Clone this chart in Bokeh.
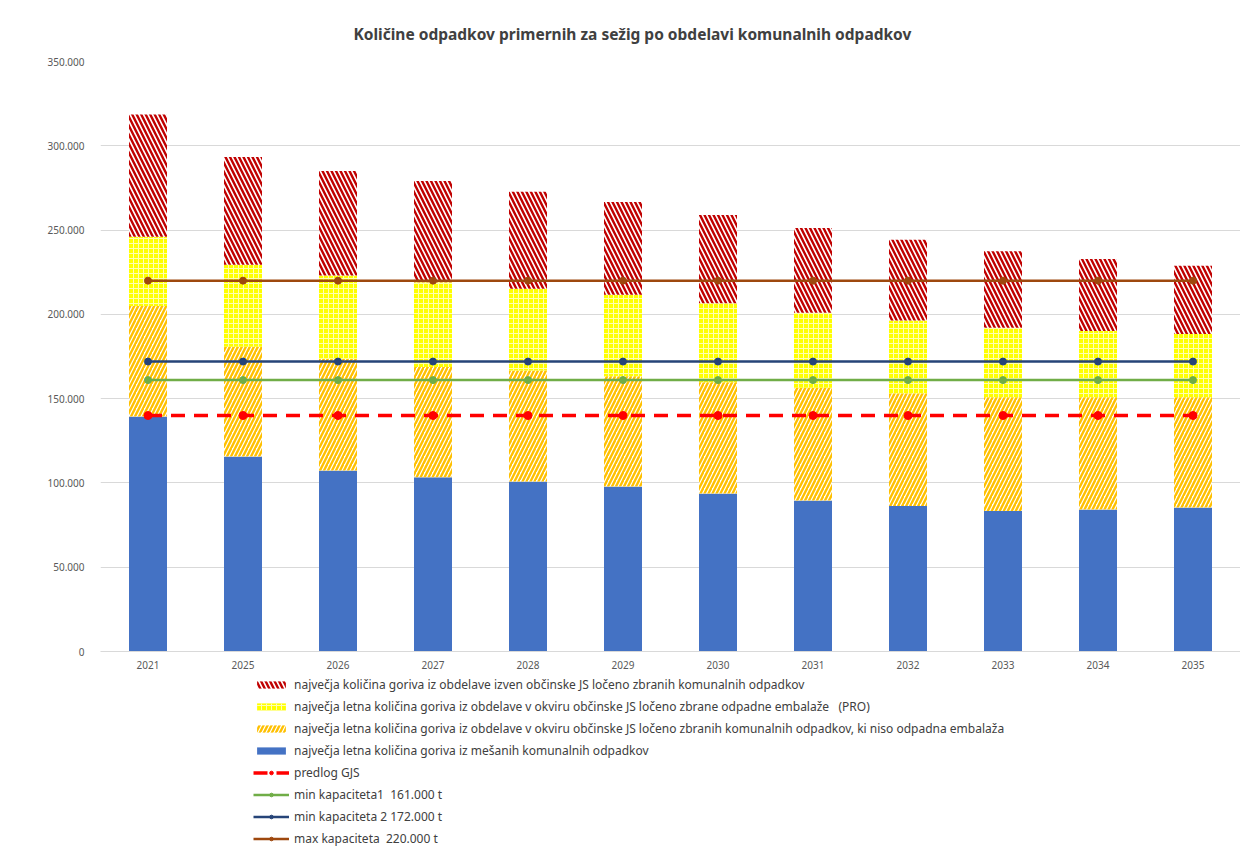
from bokeh.plotting import figure
from bokeh.layouts import column
from bokeh.models import (ColumnDataSource, Range1d, FactorRange, Legend, LegendItem,
                          FixedTicker, CustomJSTickFormatter)
from bokeh.embed import file_html
from bokeh.resources import INLINE

# ---- data (tonnes) ----
years = ["2021", "2025", "2026", "2027", "2028", "2029", "2030", "2031", "2032", "2033", "2034", "2035"]
mixed = [139400, 115700, 107400, 103300, 100800, 97900, 93800, 89600, 86300, 83300, 84300, 85400]
separate_non_pack = [65600, 65100, 66300, 65500, 65900, 65400, 65900, 66800, 66900, 67500, 66500, 65400]
separate_pack = [41000, 48700, 49300, 50200, 48500, 48400, 46900, 44500, 43100, 41200, 39400, 37600]
outside_js = [72500, 63900, 62100, 60100, 57600, 54900, 52400, 50400, 47900, 45400, 42700, 40400]
predlog_gjs = [140000, 140000, 140000, 140000, 140000, 140000, 140000, 140000, 140000, 140000, 140000, 140000]
min_cap1 = [161000, 161000, 161000, 161000, 161000, 161000, 161000, 161000, 161000, 161000, 161000, 161000]
min_cap2 = [172000, 172000, 172000, 172000, 172000, 172000, 172000, 172000, 172000, 172000, 172000, 172000]
max_cap = [220000, 220000, 220000, 220000, 220000, 220000, 220000, 220000, 220000, 220000, 220000, 220000]
y_ticks = [0, 50000, 100000, 150000, 200000, 250000, 300000, 350000]

title_text = "Količine odpadkov primernih za sežig po  obdelavi komunalnih odpadkov"
labels = [
    "največja količina goriva iz obdelave izven občinske JS ločeno zbranih komunalnih odpadkov",
    "največja letna količina goriva iz obdelave v okviru občinske JS ločeno zbrane odpadne embalaže   (PRO)",
    "največja letna količina goriva iz obdelave v okviru občinske JS ločeno zbranih komunalnih odpadkov, ki niso odpadna embalaža",
    "največja letna količina goriva iz mešanih komunalnih odpadkov",
    "predlog GJS",
    "min kapaciteta1  161.000 t",
    "min kapaciteta 2 172.000 t",
    "max kapaciteta  220.000 t",
]

# cumulative stacks
b0 = [0] * len(years)
t1 = [a for a in mixed]
t2 = [a + b for a, b in zip(t1, separate_non_pack)]
t3 = [a + b for a, b in zip(t2, separate_pack)]
t4 = [a + b for a, b in zip(t3, outside_js)]

src = ColumnDataSource(dict(x=years, b0=b0, t1=t1, t2=t2, t3=t3, t4=t4,
                            predlog=predlog_gjs, min1=min_cap1, min2=min_cap2, maxc=max_cap))

FONT = "Noto Sans"

# styles
RED_BAR = dict(fill_color="white", line_color=None, hatch_pattern="left_diagonal_line",
               hatch_color="#C00000", hatch_scale=9, hatch_weight=2.4)
YEL_BAR = dict(fill_color="#FFFF00", line_color=None, hatch_pattern="cross",
               hatch_color="#FFFFB0", hatch_scale=5, hatch_weight=1)
ORA_BAR = dict(fill_color="white", line_color=None, hatch_pattern="right_diagonal_line",
               hatch_color="#FFC000", hatch_scale=8, hatch_weight=2.4)
BLU_BAR = dict(fill_color="#4472C4", line_color=None)
PRED_L = dict(line_color="#FF0000", line_width=3.5, line_dash="14 9")
PRED_S = dict(size=8, fill_color="#FF0000", line_color="#FF0000")
MIN1_L = dict(line_color="#70AD47", line_width=2.5)
MIN1_S = dict(size=7, fill_color="#70AD47", line_color="#70AD47")
MIN2_L = dict(line_color="#264478", line_width=2.5)
MIN2_S = dict(size=7, fill_color="#264478", line_color="#264478")
MAX_L = dict(line_color="#9E480E", line_width=2.5)
MAX_S = dict(size=7, fill_color="#9E480E", line_color="#9E480E")

p = figure(x_range=FactorRange(factors=years), y_range=Range1d(0, 350000),
           width=1240, height=675, output_backend="svg", toolbar_location=None,
           min_border_left=100, min_border_right=0, min_border_top=61, min_border_bottom=24)

p.title.text = title_text
p.title.text_font = FONT
p.title.text_font_size = "15.5px"
p.title.text_font_style = "bold"
p.title.text_color = "#404040"
p.title.align = "left"
p.title.offset = 253
p.title.standoff = 33

p.outline_line_color = None
p.xgrid.grid_line_color = None
p.ygrid.grid_line_color = "#D9D9D9"
p.ygrid.grid_line_width = 1

p.yaxis.ticker = FixedTicker(ticks=y_ticks)
p.yaxis.formatter = CustomJSTickFormatter(code="if (tick == 0) { return '0'; } return (tick/1000).toFixed(0) + '.000';")
p.yaxis.axis_line_color = None
p.yaxis.major_tick_line_color = None
p.yaxis.minor_tick_line_color = None
p.yaxis.major_label_standoff = 10
p.yaxis.major_label_text_font = FONT
p.yaxis.major_label_text_font_size = "10px"
p.yaxis.major_label_text_color = "#595959"

p.xaxis.axis_line_color = "#D9D9D9"
p.xaxis.major_tick_line_color = None
p.xaxis.minor_tick_line_color = None
p.xaxis.major_label_standoff = 3
p.xaxis.major_label_text_font = FONT
p.xaxis.major_label_text_font_size = "10px"
p.xaxis.major_label_text_color = "#595959"

W = 0.4
p.vbar(x="x", bottom="b0", top="t1", width=W, source=src, **BLU_BAR)
p.vbar(x="x", bottom="t1", top="t2", width=W, source=src, **ORA_BAR)
p.vbar(x="x", bottom="t2", top="t3", width=W, source=src, **YEL_BAR)
p.vbar(x="x", bottom="t3", top="t4", width=W, source=src, **RED_BAR)

p.line(x="x", y="predlog", source=src, **PRED_L)
p.scatter(x="x", y="predlog", source=src, **PRED_S)
p.line(x="x", y="min1", source=src, **MIN1_L)
p.scatter(x="x", y="min1", source=src, **MIN1_S)
p.line(x="x", y="min2", source=src, **MIN2_L)
p.scatter(x="x", y="min2", source=src, **MIN2_S)
p.line(x="x", y="maxc", source=src, **MAX_L)
p.scatter(x="x", y="maxc", source=src, **MAX_S)

# ---- legend panel (separate figure below the chart, sharing the series styles) ----
lg = figure(x_range=Range1d(0, 1), y_range=Range1d(0, 1), width=1240, height=172,
            output_backend="svg", toolbar_location=None,
            x_axis_location=None, y_axis_location=None,
            min_border_left=0, min_border_right=0, min_border_top=0, min_border_bottom=0)
lg.grid.visible = False
lg.outline_line_color = None

# off-screen stand-ins so the legend can draw each series' glyph
lsrc = ColumnDataSource(dict(x=[-5.0, -4.0], y=[-5.0, -5.0], b=[-6.0, -6.0], t=[-5.0, -5.0]))
lr_red = lg.vbar(x="x", bottom="b", top="t", width=0.1, source=lsrc, **RED_BAR)
lr_yel = lg.vbar(x="x", bottom="b", top="t", width=0.1, source=lsrc, **YEL_BAR)
lr_ora = lg.vbar(x="x", bottom="b", top="t", width=0.1, source=lsrc, **ORA_BAR)
lr_blu = lg.vbar(x="x", bottom="b", top="t", width=0.1, source=lsrc, **BLU_BAR)
ll_pred = lg.line(x="x", y="y", source=lsrc, **PRED_L)
ls_pred = lg.scatter(x="x", y="y", source=lsrc, **PRED_S)
ll_min1 = lg.line(x="x", y="y", source=lsrc, **MIN1_L)
ls_min1 = lg.scatter(x="x", y="y", source=lsrc, **MIN1_S)
ll_min2 = lg.line(x="x", y="y", source=lsrc, **MIN2_L)
ls_min2 = lg.scatter(x="x", y="y", source=lsrc, **MIN2_S)
ll_max = lg.line(x="x", y="y", source=lsrc, **MAX_L)
ls_max = lg.scatter(x="x", y="y", source=lsrc, **MAX_S)

items = [
    LegendItem(label=labels[0], renderers=[lr_red]),
    LegendItem(label=labels[1], renderers=[lr_yel]),
    LegendItem(label=labels[2], renderers=[lr_ora]),
    LegendItem(label=labels[3], renderers=[lr_blu]),
    LegendItem(label=labels[4], renderers=[ll_pred, ls_pred]),
    LegendItem(label=labels[5], renderers=[ll_min1, ls_min1]),
    LegendItem(label=labels[6], renderers=[ll_min2, ls_min2]),
    LegendItem(label=labels[7], renderers=[ll_max, ls_max]),
]
legend = Legend(items=items, location=(153, 0), orientation="vertical",
                glyph_width=36, glyph_height=9, label_height=16, spacing=5,
                padding=0, margin=0, label_standoff=5,
                label_text_font=FONT, label_text_font_size="12px", label_text_color="#404040",
                border_line_color=None, background_fill_alpha=0)
lg.add_layout(legend, "center")

layout = column(p, lg, spacing=0)
open("out.html", "w").write(file_html(layout, INLINE))
